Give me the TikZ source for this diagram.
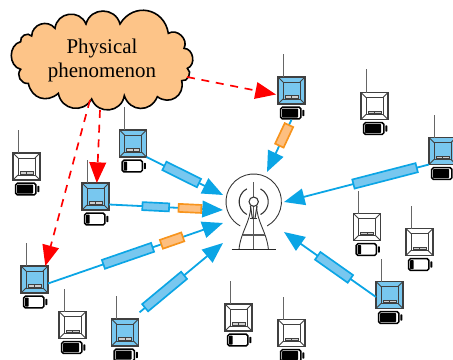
\documentclass[tikz,border=0pt]{standalone}
\usepackage{fontspec}
\setmainfont{Liberation Serif}
\usetikzlibrary{arrows.meta,calc}
\definecolor{bl}{HTML}{0BA5E5}
\definecolor{blf}{HTML}{78C7EF}
\definecolor{orl}{HTML}{F7941D}
\definecolor{orf}{HTML}{FDBF80}
\definecolor{clf}{HTML}{FDC488}
\definecolor{gr}{HTML}{404040}
\tikzset{
  sbox/.style={draw=gr,line width=.95pt,minimum size=20.25pt,inner sep=0pt,outer sep=0pt},
  sline/.style={draw=gr,line width=.6pt},
  ant/.style={draw=gr!80,line width=.75pt},
  battb/.style={draw=black,line width=1.15pt,rounded corners=1.3pt,minimum width=15.2pt,minimum height=8.8pt,inner sep=0pt},
  blu/.style={draw=bl,line width=1.35pt,-{Triangle[length=15.5pt,width=12.5pt]}},
  redd/.style={draw=red,line width=1.25pt,dash pattern=on 6pt off 5pt,-{Triangle[length=15.5pt,width=12.5pt]}},
  pb/.style={draw=bl,fill=blf,line width=1.25pt,inner sep=0pt,outer sep=0pt,sloped,anchor=center,minimum height=7pt},
  po/.style={draw=orl,fill=orf,line width=1.25pt,inner sep=0pt,outer sep=0pt,sloped,anchor=center,minimum height=7pt},
  tw/.style={draw=black!80,line width=.65pt},
  twm/.style={draw=black!65,line width=1.1pt},
}
\newcommand{\sensor}[5]{%
  \node[sbox,fill=#4] (#1) at (#2,#3) {};
  \draw[ant] ([xshift=3.75pt]#1.north west) -- ++(0pt,17.25pt);
  \draw[sline] ([shift={(3.75pt,-3.75pt)}]#1.north west) rectangle ([shift={(-3.75pt,3.75pt)}]#1.south east);
  \draw[sline] (#1.north west) -- ++(3.75pt,-3.75pt) (#1.north east) -- ++(-3.75pt,-3.75pt)
               (#1.south west) -- ++(3.75pt,3.75pt) (#1.south east) -- ++(-3.75pt,3.75pt);
  \draw[sline,fill=gr!25] ([shift={(-4.9pt,-5.9pt)}]#1.center) rectangle ([shift={(4.9pt,-3.9pt)}]#1.center);
  \draw[sline] ([yshift=-5.9pt]#1.center) -- ([yshift=-3.9pt]#1.center);
  \node[battb] (#1b) at ([shift={(-.5pt,-16.9pt)}]#1.center) {};
  \fill[black,rounded corners=.5pt] ([shift={(1.6pt,-1.6pt)}]#1b.north west) rectangle ([shift={(1.6pt+#5,1.6pt)}]#1b.south west);
  \fill[black,rounded corners=.5pt] ([shift={(.5pt,-2.6pt)}]#1b.north east) rectangle ([shift={(2pt,2.6pt)}]#1b.south east);
}
\begin{document}
\begin{tikzpicture}[x=.75pt,y=-.75pt]
\useasboundingbox (0,0) rectangle (453,360);
\clip (0,0) rectangle (453,360);
% sensors
\def\lo{2.7pt}\def\hi{12pt}
\sensor{sA}{26.5}{166.5}{white}{\hi}
\sensor{sB}{133}{143.5}{blf}{\lo}
\sensor{sC}{95.5}{196.5}{blf}{\lo}
\sensor{sD}{34.5}{279.5}{blf}{\lo}
\sensor{sE}{72.5}{325}{white}{\hi}
\sensor{sF}{125}{332.5}{blf}{\hi}
\sensor{sG}{238.5}{317.5}{white}{\lo}
\sensor{sH}{291.5}{333}{white}{\hi}
\sensor{sI}{291.5}{90.5}{blf}{\hi}
\sensor{sJ}{374.5}{106}{white}{\hi}
\sensor{sK}{442.5}{151}{blf}{\hi}
\sensor{sL}{367}{227}{white}{\lo}
\sensor{sM}{419.5}{242}{white}{\lo}
\sensor{sN}{389.5}{295}{blf}{\hi}
% tower
\node[inner sep=0pt,minimum size=41.6pt,circle] (tower) at (253.7,201.7) {};
\draw[tw] ([shift={(-61:20.8pt)}]tower.center) arc[start angle=-61,end angle=241,radius=20.8pt];
\draw[tw,line width=.8pt] ([shift={(-62:10.9pt)}]tower.center) arc[start angle=-62,end angle=62,radius=10.9pt];
\draw[tw,line width=.8pt] ([shift={(118:10.9pt)}]tower.center) arc[start angle=118,end angle=242,radius=10.9pt];
\draw[twm] (253.7,182) -- (253.7,249.3);
\draw[tw] (250.7,206) .. controls (250.7,221.7) and (240.7,231.7) .. (239,249.3);
\draw[tw] (256.7,206) .. controls (256.7,221.7) and (266.7,231.7) .. (268.4,249.3);
\draw[tw,line width=.8pt] (250.4,206) -- (252.5,219) (257,206) -- (254.9,219);
\draw[tw] (250,218) -- (257.4,218);
\draw[twm,line width=.8pt] (243,235) -- (265,235);
\draw[draw=black!85,line width=.8pt] (231.7,249.3) -- (276,249.3);
\draw[tw,line width=.8pt,fill=white] (tower.center) circle[radius=3.5pt];
% cloud
\begin{scope}[x=.25pt,y=-.25pt]
\draw[line width=1.2pt,fill=clf] (62,125)
  to[bend left=75,looseness=1.2] (95,108)
  to[bend left=70,looseness=1.25] (165,85)
  to[bend left=75,looseness=1.35] (258,72)
  to[bend left=75,looseness=1.35] (360,72)
  to[bend left=70,looseness=1.35] (505,100)
  to[bend left=75,looseness=1.2] (552,145)
  to[bend left=80,looseness=1.2] (562,205)
  to[bend left=80,looseness=1.2] (545,242)
  to[bend left=70,looseness=1.35] (472,290)
  to[bend left=70,looseness=1.35] (373,287)
  to[bend left=75,looseness=1.35] (275,297)
  to[bend left=70,looseness=1.3] (175,280)
  to[bend left=60,looseness=1.25] (85,250)
  to[bend left=70,looseness=1.2] (62,208)
  to[bend left=75,looseness=1.2] cycle;
\end{scope}
\node[font=\fontsize{15.7pt}{18pt}\selectfont,align=center,inner sep=0pt] (phen) at (102,60.5) {Physical\\phenomenon};
% arrow ends
\coordinate (tB) at (223,195);
\coordinate (tC) at (223,210);
\coordinate (tD) at (223,223);
\coordinate (tF) at (223,243);
\coordinate (tI) at (267,172);
\coordinate (tK) at (284,202);
\coordinate (tN) at (284,232);
\coordinate (rI1) at (187,77);
\coordinate (rC1) at (100,110);
\coordinate (rD1) at (90,100);
% blue connectors
\draw[blu] (sB.south east) -- node[pb,pos=.46,minimum width=29pt] (pB) {} (tB);
\draw[blu] ([yshift=-6pt]sC.east) -- node[pb,pos=.41,minimum width=20pt,minimum height=6pt] (pC1) {} node[po,pos=.71,minimum width=17pt,minimum height=6pt] (pC2) {} (tC);
\draw[blu] ([yshift=-3pt]sD.east) -- node[pb,pos=.457,minimum width=39pt] (pD1) {} node[po,pos=.709,minimum width=17pt] (pD2) {} (tD);
\draw[blu] ([shift={(.8pt,5pt)}]sF.north east) -- node[pb,pos=.30,minimum width=38pt] (pF) {} (tF);
\draw[blu] (sK.south west) -- node[pb,pos=.303,minimum width=49pt] (pK) {} (tK);
\draw[blu] ([yshift=-1.5pt]sN.west) -- node[pb,pos=.456,minimum width=30pt] (pN) {} (tN);
\draw[blu] ([shift={(.5pt,0pt)}]sIb.south) -- node[po,pos=.3,minimum width=17pt] (pI) {} (tI);
% red connectors
\draw[redd] (rI1) -- ([shift={(-1.5pt,-3pt)}]sI.west);
\draw[redd] (rC1) -- ([xshift=1pt]sC.north);
\draw[redd] (rD1) -- ([xshift=-2pt]sD.north east);
\end{tikzpicture}
\end{document}
